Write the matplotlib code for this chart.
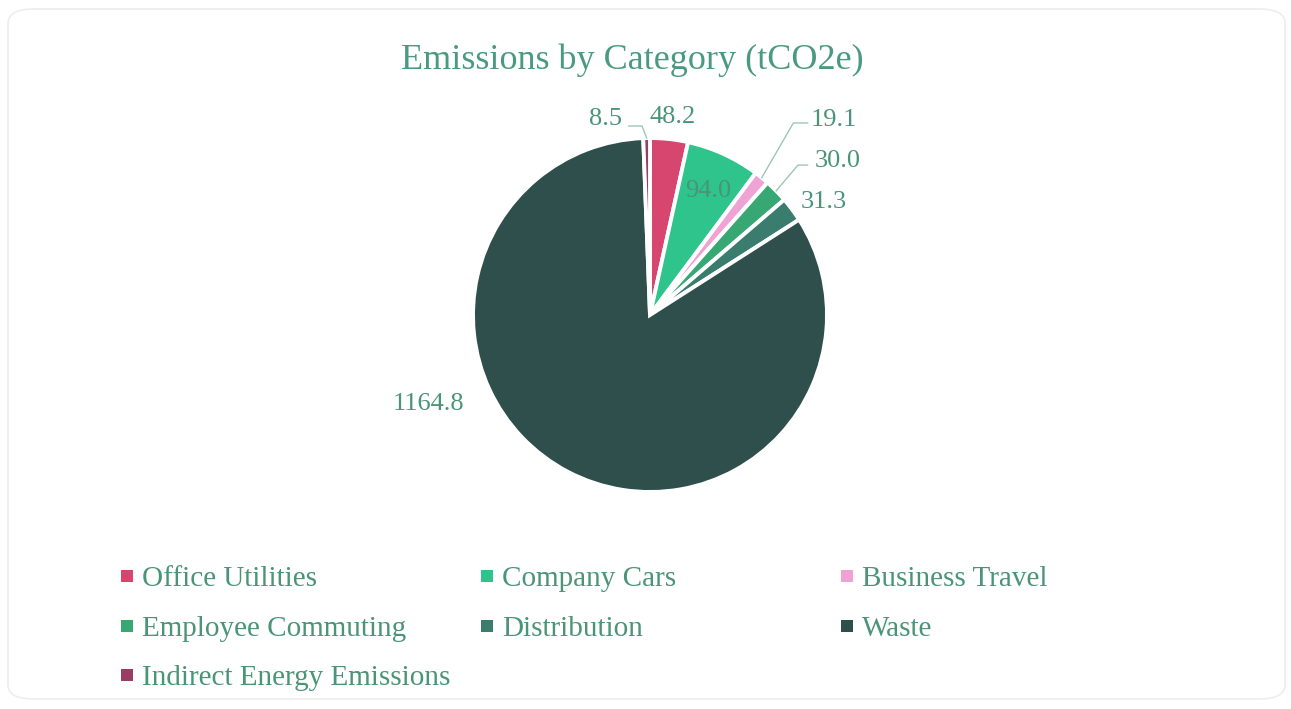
import numpy as np
import matplotlib
matplotlib.use("Agg")
import matplotlib.pyplot as plt
from matplotlib.patches import FancyBboxPatch, Rectangle

# data (clockwise from 12 o'clock)
categories = ["Office Utilities", "Company Cars", "Business Travel",
              "Employee Commuting", "Distribution", "Waste",
              "Indirect Energy Emissions"]
values = [48.2, 94.0, 19.1, 30.0, 31.3, 1164.8, 8.5]
colors = ["#D6466E", "#2EC48C", "#EFA3D4", "#37A874", "#3A7C6D", "#2E4F4B", "#9A3D65"]

# label placement (data coords, pie radius = 1) and leader elbows
label_pos = [(0.13, 1.12), (0.33, 0.70), (1.04, 1.10), (1.06, 0.87),
             (0.98, 0.64), (-1.25, -0.50), (-0.25, 1.11)]
leaders = {2: [(0.81, 1.085), (0.89, 1.085)],
           3: [(0.836, 0.847), (0.89, 0.847)],
           6: [(-0.045, 1.068), (-0.12, 1.068)]}

txt_color = "#4A9478"
plt.rcParams['font.family'] = ['Liberation Serif', 'DejaVu Serif']

W, H = 1291, 709
fig = plt.figure(figsize=(W / 100, H / 100), dpi=100)
fig.patch.set_facecolor("white")

# rounded chart border (behind everything)
fig.add_artist(FancyBboxPatch((8 / W, 10 / H), 1277 / W, 690 / H,
                              boxstyle="round,pad=0,rounding_size=0.02",
                              transform=fig.transFigure, facecolor="white",
                              edgecolor="#ECEFEE", linewidth=1.2, zorder=-5))

cx, cy, R = 650, 315, 177
span = 1.5
ax = fig.add_axes([(cx - span * R) / W, (H - cy - span * R) / H,
                   2 * span * R / W, 2 * span * R / H])
ax.set_zorder(2)
wedges, _ = ax.pie(values, colors=colors, startangle=90, counterclock=False,
                   wedgeprops=dict(edgecolor="white", linewidth=2.8))
ax.set_xlim(-span, span)
ax.set_ylim(-span, span)
ax.set_aspect("equal")
ax.axis("off")

for i, (w, v) in enumerate(zip(wedges, values)):
    tx, ty = label_pos[i]
    ax.text(tx, ty, f"{v:.1f}", ha="center", va="center", fontsize=19,
            color=txt_color, clip_on=False)
    if i in leaders:
        mid = np.deg2rad((w.theta1 + w.theta2) / 2)
        pts = [(np.cos(mid), np.sin(mid))] + leaders[i]
        xs, ys = zip(*pts)
        ax.plot(xs, ys, color="#9CC7B4", lw=1.0, clip_on=False)

fig.text(632 / W, 1 - 60 / H, "Emissions by Category (tCO2e)", ha="center",
         va="center", fontsize=26, color="#4A9A80")

# legend, 3 columns
col_x = [121, 481, 841]
row_y = [576, 626, 675]
for i, (name, c) in enumerate(zip(categories, colors)):
    x = col_x[i % 3]
    y = row_y[i // 3]
    fig.add_artist(Rectangle((x / W, 1 - (y + 6) / H), 12 / W, 12 / H,
                             transform=fig.transFigure, facecolor=c,
                             edgecolor="none"))
    fig.text((x + 21) / W, 1 - (y + 3) / H, name, ha="left", va="center",
             fontsize=21, color=txt_color)

fig.savefig("out.png", dpi=100)
